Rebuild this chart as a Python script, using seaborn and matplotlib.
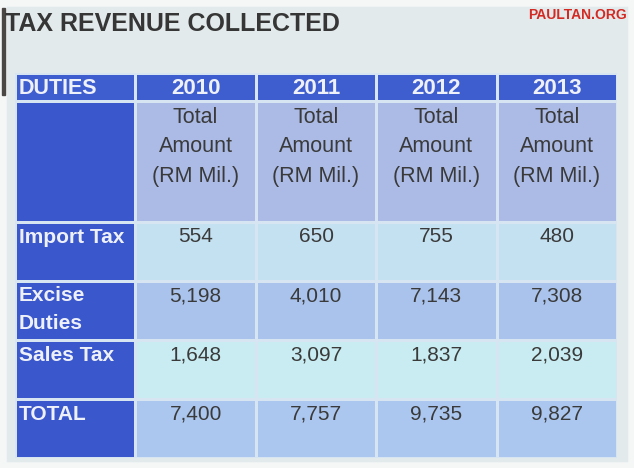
import numpy as np
import pandas as pd
import matplotlib
matplotlib.use("Agg")
import matplotlib.pyplot as plt
from matplotlib.colors import ListedColormap
from matplotlib.patches import Rectangle
import seaborn as sns

# =========================
# DATA
# =========================

years = ["2010", "2011", "2012", "2013"]
duties = ["Import Tax", "Excise\nDuties", "Sales Tax", "TOTAL"]
import_tax = [554, 650, 755, 480]
excise_duties = [5198, 4010, 7143, 7308]
sales_tax = [1648, 3097, 1837, 2039]
total = [7400, 7757, 9735, 9827]
unit_label = "Total\nAmount\n(RM Mil.)"

values = pd.DataFrame([import_tax, excise_duties, sales_tax, total],
                      index=duties, columns=years)

# =========================
# STYLE
# =========================

plt.rcParams['font.family'] = ['Liberation Sans', 'DejaVu Sans']

# 0 label column, 1..4 body row shades, 5 header, 6 unit row
palette = ["#3a58cb", "#c4e1f1", "#a9c3ec", "#c8ecf1", "#abc7ef", "#3e5ecf", "#abbbe6"]
cmap = ListedColormap(palette)
row_shade = [1, 2, 3, 4]
grid_col = "#d6e5f1"
text_dark = "#3a3a3a"

W, H = 634, 468


def box(x0, y0, x1, y1):
    return [x0 / W, 1 - y1 / H, (x1 - x0) / W, (y1 - y0) / H]


fig = plt.figure(figsize=(W / 100, H / 100), dpi=100, facecolor="#e3eaeb")

# photo frame and slide edge
fig.patches.append(Rectangle((0, 0), 1, 1, transform=fig.transFigure,
                             fill=False, edgecolor="#f5f7f7", linewidth=9))
fig.patches.append(Rectangle((2 / W, 1 - 95 / H), 2.5 / W, 87 / H,
                             transform=fig.transFigure, color="#4a4744"))

n_cols = len(years) + 1
kw = dict(cmap=cmap, vmin=-0.5, vmax=len(palette) - 0.5, cbar=False,
          linewidths=1.0, linecolor=grid_col, xticklabels=False, yticklabels=False)

# ---------------------------------
# header row
# ---------------------------------
ax_head = fig.add_axes(box(15, 73, 617, 101))
sns.heatmap(np.full((1, n_cols), 5), ax=ax_head, **kw)
ax_head.text(0.03, 0.55, "DUTIES", ha="left", va="center",
             color="#eef0fa", fontsize=15.5, fontweight="bold")
for j, yr in enumerate(years):
    ax_head.text(j + 1.5, 0.55, yr, ha="center", va="center",
                 color="#eef0fa", fontsize=16, fontweight="bold")

# ---------------------------------
# unit row
# ---------------------------------
ax_sub = fig.add_axes(box(15, 101, 617, 222))
sub_codes = np.full((1, n_cols), 6)
sub_codes[0, 0] = 0
sns.heatmap(sub_codes, ax=ax_sub, **kw)
for j in range(len(years)):
    ax_sub.text(j + 1.5, 0.38, unit_label, ha="center", va="center",
                color=text_dark, fontsize=15.5, linespacing=1.55)

# ---------------------------------
# body rows
# ---------------------------------
ax_body = fig.add_axes(box(15, 222, 617, 458))
body_codes = np.zeros((len(duties), n_cols))
body_codes[:, 1:] = np.array(row_shade)[:, None]
sns.heatmap(body_codes, ax=ax_body, **kw)

for i, name in enumerate(values.index):
    if "\n" in name:
        ax_body.text(0.03, i + 0.48, name, ha="left", va="center", color="#eef0fa",
                     fontsize=15, fontweight="bold", linespacing=1.62)
    else:
        ax_body.text(0.03, i + 0.26, name, ha="left", va="center", color="#eef0fa",
                     fontsize=15, fontweight="bold")
    for j, yr in enumerate(values.columns):
        ax_body.text(j + 1.5, i + 0.25, f"{values.loc[name, yr]:,}",
                     ha="center", va="center", color=text_dark, fontsize=15)

# ---------------------------------
# titles
# ---------------------------------
fig.text(5 / W, 1 - 24 / H, "TAX REVENUE COLLECTED", ha="left", va="center",
         fontsize=18, fontweight="bold", color="#363636")
fig.text(627 / W, 1 - 15 / H, "PAULTAN.ORG", ha="right", va="center",
         fontsize=10, fontweight="bold", color="#d42a24",
         family=['Liberation Sans Narrow', 'Liberation Sans'])

fig.savefig("out.png", dpi=100, facecolor=fig.get_facecolor())
